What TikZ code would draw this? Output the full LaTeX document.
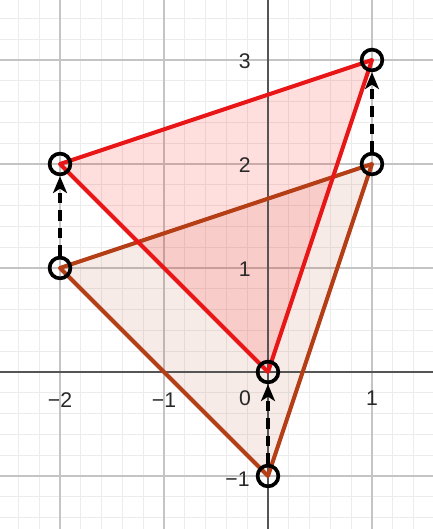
\documentclass[tikz,border=0pt]{standalone}
\usepackage{fontspec}
\setmainfont{Liberation Sans}
\usetikzlibrary{arrows.meta}
\definecolor{redline}{RGB}{232,22,22}
\definecolor{brownline}{RGB}{180,62,22}
\definecolor{gridmin}{RGB}{236,236,236}
\definecolor{gridmaj}{RGB}{196,196,196}
\definecolor{axiscol}{RGB}{85,85,85}
\definecolor{lblcol}{RGB}{40,40,40}
\begin{document}
\begin{tikzpicture}[x=1cm,y=1cm,
  ptmark/.style={circle, draw=black, line width=1pt, minimum size=0.2cm, inner sep=0pt},
  redfill/.style={fill=red, fill opacity=0.13},
  brownfill/.style={fill=brownline, fill opacity=0.10},
  redtri/.style={draw=redline, line width=1.1pt, line join=round},
  browntri/.style={draw=brownline, line width=1.1pt, line join=round},
  mvarrow/.style={draw=black, line width=0.9pt, dash pattern=on 2.9pt off 1.9pt,
    -{Stealth[length=4.6pt, width=3.8pt, inset=1.2pt]}},
  lbl/.style={font=\fontsize{5.8}{7}\selectfont, text=lblcol, inner sep=0pt}]
\useasboundingbox (-2.577,-1.51) rectangle (1.587,3.577);
\fill[white] (-2.577,-1.51) rectangle (1.587,3.577);
% grid
\draw[gridmin, line width=0.3pt, step=0.2] (-2.577,-1.51) grid (1.587,3.577);
\draw[gridmaj, line width=0.45pt, step=1] (-2.577,-1.51) grid (1.587,3.577);
% vertices
\coordinate (r1) at (-2,2);
\coordinate (r2) at (1,3);
\coordinate (r3) at (0,0);
\coordinate (b1) at (-2,1);
\coordinate (b2) at (1,2);
\coordinate (b3) at (0,-1);
% fills
\fill[brownfill] (b1) -- (b2) -- (b3) -- cycle;
\fill[redfill] (r1) -- (r2) -- (r3) -- cycle;
% axes
\draw[axiscol, line width=0.6pt] (-2.577,0) -- (1.587,0);
\draw[axiscol, line width=0.6pt] (0,-1.51) -- (0,3.577);
% triangles
\draw[browntri] (b1) -- (b2) -- (b3) -- cycle;
\draw[redtri] (r1) -- (r2) -- (r3) -- cycle;
% labels
\node[lbl] (xm2) at (-2,-0.27) {−2};
\node[lbl] (xm1) at (-1,-0.27) {−1};
\node[lbl] (x0) at (-0.22,-0.25) {0};
\node[lbl] (x1) at (1,-0.25) {1};
\node[lbl, anchor=east] (y3) at (-0.16,2.985) {3};
\node[lbl, anchor=east] (y2) at (-0.16,1.985) {2};
\node[lbl, anchor=east] (y1) at (-0.16,0.985) {1};
\node[lbl, anchor=east] (ym1) at (-0.17,-1.03) {−1};
% point markers
\node[ptmark] (R1) at (r1) {};
\node[ptmark] (R2) at (r2) {};
\node[ptmark] (R3) at (r3) {};
\node[ptmark] (B1) at (b1) {};
\node[ptmark] (B2) at (b2) {};
\node[ptmark] (B3) at (b3) {};
% translation arrows
\draw[mvarrow] (B1) -- (R1);
\draw[mvarrow] (B2) -- (R2);
\draw[mvarrow] (B3) -- (R3);
\end{tikzpicture}
\end{document}
